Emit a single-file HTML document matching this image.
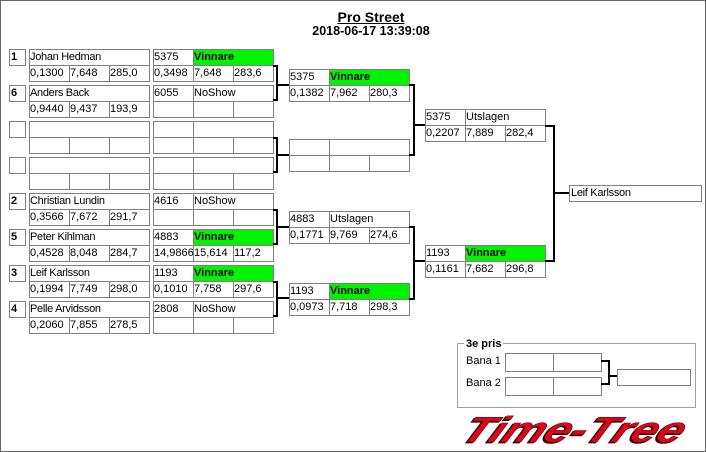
<!DOCTYPE html>
<html><head><meta charset="utf-8"><style>
html,body{margin:0;padding:0;background:#fff;}
#p{position:relative;width:706px;height:452px;overflow:hidden;background:#fff;font-family:"Liberation Sans",sans-serif;color:#000;}
.c{position:absolute;box-sizing:border-box;border:1px solid #808080;height:17px;font-size:11px;line-height:15px;white-space:nowrap;padding-left:0;}
.w{width:41px}.n{width:121px}.s{width:81px}
.g{background:#00f400;font-weight:bold;}
.sd{width:17px;font-weight:bold;padding-left:1px;}
.k{position:absolute;background:#000;}
.nm{letter-spacing:-0.3px;}
</style></head><body><div id="p">
<div style="position:absolute;left:0;top:0;width:706px;height:452px;box-sizing:border-box;border:1px solid #666;"></div>
<div style="position:absolute;left:271px;top:9px;width:200px;text-align:center;font-size:14px;font-weight:bold;line-height:16px;text-decoration:underline;">Pro Street</div>
<div style="position:absolute;left:221px;top:24px;width:300px;text-align:center;font-size:12.5px;font-weight:bold;line-height:14px;">2018-06-17 13:39:08</div>

<!-- Round 1 -->
<div class="c sd" style="left:9px;top:49px">1</div>
<div class="c n nm" style="left:29px;top:49px">Johan Hedman</div>
<div class="c w" style="left:29px;top:65px">0,1300</div><div class="c w" style="left:69px;top:65px">7,648</div><div class="c w" style="left:109px;top:65px">285,0</div>
<div class="c w" style="left:153px;top:49px">5375</div><div class="c s g" style="left:193px;top:49px">Vinnare</div>
<div class="c w" style="left:153px;top:65px">0,3498</div><div class="c w" style="left:193px;top:65px">7,648</div><div class="c w" style="left:233px;top:65px">283,6</div>

<div class="c sd" style="left:9px;top:85px">6</div>
<div class="c n nm" style="left:29px;top:85px">Anders Back</div>
<div class="c w" style="left:29px;top:101px">0,9440</div><div class="c w" style="left:69px;top:101px">9,437</div><div class="c w" style="left:109px;top:101px">193,9</div>
<div class="c w" style="left:153px;top:85px">6055</div><div class="c s" style="left:193px;top:85px">NoShow</div>
<div class="c w" style="left:153px;top:101px"></div><div class="c w" style="left:193px;top:101px"></div><div class="c w" style="left:233px;top:101px"></div>

<div class="c sd" style="left:9px;top:121px"></div>
<div class="c n" style="left:29px;top:121px"></div>
<div class="c w" style="left:29px;top:137px"></div><div class="c w" style="left:69px;top:137px"></div><div class="c w" style="left:109px;top:137px"></div>
<div class="c w" style="left:153px;top:121px"></div><div class="c s" style="left:193px;top:121px"></div>
<div class="c w" style="left:153px;top:137px"></div><div class="c w" style="left:193px;top:137px"></div><div class="c w" style="left:233px;top:137px"></div>

<div class="c sd" style="left:9px;top:157px"></div>
<div class="c n" style="left:29px;top:157px"></div>
<div class="c w" style="left:29px;top:173px"></div><div class="c w" style="left:69px;top:173px"></div><div class="c w" style="left:109px;top:173px"></div>
<div class="c w" style="left:153px;top:157px"></div><div class="c s" style="left:193px;top:157px"></div>
<div class="c w" style="left:153px;top:173px"></div><div class="c w" style="left:193px;top:173px"></div><div class="c w" style="left:233px;top:173px"></div>

<div class="c sd" style="left:9px;top:193px">2</div>
<div class="c n nm" style="left:29px;top:193px">Christian Lundin</div>
<div class="c w" style="left:29px;top:209px">0,3566</div><div class="c w" style="left:69px;top:209px">7,672</div><div class="c w" style="left:109px;top:209px">291,7</div>
<div class="c w" style="left:153px;top:193px">4616</div><div class="c s" style="left:193px;top:193px">NoShow</div>
<div class="c w" style="left:153px;top:209px"></div><div class="c w" style="left:193px;top:209px"></div><div class="c w" style="left:233px;top:209px"></div>

<div class="c sd" style="left:9px;top:229px">5</div>
<div class="c n nm" style="left:29px;top:229px">Peter Kihlman</div>
<div class="c w" style="left:29px;top:245px">0,4528</div><div class="c w" style="left:69px;top:245px">8,048</div><div class="c w" style="left:109px;top:245px">284,7</div>
<div class="c w" style="left:153px;top:229px">4883</div><div class="c s g" style="left:193px;top:229px">Vinnare</div>
<div class="c w" style="left:153px;top:245px">14,9866</div><div class="c w" style="left:193px;top:245px">15,614</div><div class="c w" style="left:233px;top:245px">117,2</div>

<div class="c sd" style="left:9px;top:265px">3</div>
<div class="c n nm" style="left:29px;top:265px">Leif Karlsson</div>
<div class="c w" style="left:29px;top:281px">0,1994</div><div class="c w" style="left:69px;top:281px">7,749</div><div class="c w" style="left:109px;top:281px">298,0</div>
<div class="c w" style="left:153px;top:265px">1193</div><div class="c s g" style="left:193px;top:265px">Vinnare</div>
<div class="c w" style="left:153px;top:281px">0,1010</div><div class="c w" style="left:193px;top:281px">7,758</div><div class="c w" style="left:233px;top:281px">297,6</div>

<div class="c sd" style="left:9px;top:301px">4</div>
<div class="c n nm" style="left:29px;top:301px">Pelle Arvidsson</div>
<div class="c w" style="left:29px;top:317px">0,2060</div><div class="c w" style="left:69px;top:317px">7,855</div><div class="c w" style="left:109px;top:317px">278,5</div>
<div class="c w" style="left:153px;top:301px">2808</div><div class="c s" style="left:193px;top:301px">NoShow</div>
<div class="c w" style="left:153px;top:317px"></div><div class="c w" style="left:193px;top:317px"></div><div class="c w" style="left:233px;top:317px"></div>

<!-- Round 2 -->
<div class="c w" style="left:289px;top:69px">5375</div><div class="c s g" style="left:329px;top:69px">Vinnare</div>
<div class="c w" style="left:289px;top:85px">0,1382</div><div class="c w" style="left:329px;top:85px">7,962</div><div class="c w" style="left:369px;top:85px">280,3</div>

<div class="c w" style="left:289px;top:139px"></div><div class="c s" style="left:329px;top:139px"></div>
<div class="c w" style="left:289px;top:155px"></div><div class="c w" style="left:329px;top:155px"></div><div class="c w" style="left:369px;top:155px"></div>

<div class="c w" style="left:289px;top:211px">4883</div><div class="c s" style="left:329px;top:211px">Utslagen</div>
<div class="c w" style="left:289px;top:227px">0,1771</div><div class="c w" style="left:329px;top:227px">9,769</div><div class="c w" style="left:369px;top:227px">274,6</div>

<div class="c w" style="left:289px;top:283px">1193</div><div class="c s g" style="left:329px;top:283px">Vinnare</div>
<div class="c w" style="left:289px;top:299px">0,0973</div><div class="c w" style="left:329px;top:299px">7,718</div><div class="c w" style="left:369px;top:299px">298,3</div>

<!-- Round 3 -->
<div class="c w" style="left:425px;top:109px">5375</div><div class="c s" style="left:465px;top:109px">Utslagen</div>
<div class="c w" style="left:425px;top:125px">0,2207</div><div class="c w" style="left:465px;top:125px">7,889</div><div class="c w" style="left:505px;top:125px">282,4</div>

<div class="c w" style="left:425px;top:245px">1193</div><div class="c s g" style="left:465px;top:245px">Vinnare</div>
<div class="c w" style="left:425px;top:261px">0,1161</div><div class="c w" style="left:465px;top:261px">7,682</div><div class="c w" style="left:505px;top:261px">296,8</div>

<!-- Final -->
<div class="c nm" style="left:569px;top:185px;width:133px;padding-left:1px">Leif Karlsson</div>

<!-- Connectors R1 -->
<div class="k" style="left:273px;top:65px;width:5px;height:2px"></div>
<div class="k" style="left:273px;top:99px;width:5px;height:2px"></div>
<div class="k" style="left:276px;top:65px;width:2px;height:36px"></div>
<div class="k" style="left:278px;top:84px;width:11px;height:2px"></div>

<div class="k" style="left:273px;top:137px;width:5px;height:2px"></div>
<div class="k" style="left:273px;top:171px;width:5px;height:2px"></div>
<div class="k" style="left:276px;top:137px;width:2px;height:36px"></div>
<div class="k" style="left:278px;top:154px;width:11px;height:2px"></div>

<div class="k" style="left:273px;top:209px;width:5px;height:2px"></div>
<div class="k" style="left:273px;top:243px;width:5px;height:2px"></div>
<div class="k" style="left:276px;top:209px;width:2px;height:36px"></div>
<div class="k" style="left:278px;top:226px;width:11px;height:2px"></div>

<div class="k" style="left:273px;top:281px;width:5px;height:2px"></div>
<div class="k" style="left:273px;top:315px;width:5px;height:2px"></div>
<div class="k" style="left:276px;top:281px;width:2px;height:36px"></div>
<div class="k" style="left:278px;top:297px;width:11px;height:2px"></div>

<!-- Connectors R2 -->
<div class="k" style="left:409px;top:84px;width:6px;height:2px"></div>
<div class="k" style="left:409px;top:154px;width:6px;height:2px"></div>
<div class="k" style="left:413px;top:84px;width:2px;height:72px"></div>
<div class="k" style="left:415px;top:124px;width:10px;height:2px"></div>

<div class="k" style="left:409px;top:226px;width:6px;height:2px"></div>
<div class="k" style="left:409px;top:298px;width:6px;height:2px"></div>
<div class="k" style="left:413px;top:226px;width:2px;height:74px"></div>
<div class="k" style="left:415px;top:260px;width:10px;height:2px"></div>

<!-- Connectors R3 -->
<div class="k" style="left:545px;top:125px;width:10px;height:2px"></div>
<div class="k" style="left:545px;top:260px;width:10px;height:2px"></div>
<div class="k" style="left:553px;top:125px;width:2px;height:137px"></div>
<div class="k" style="left:555px;top:192px;width:14px;height:2px"></div>

<!-- 3e pris -->
<div style="position:absolute;left:457px;top:343px;width:239px;height:65px;box-sizing:border-box;border:1px solid #a0a0a0;"></div>
<div style="position:absolute;left:464px;top:337px;padding:0 2px;background:#fff;font-size:11px;font-weight:bold;line-height:15px;">3e pris</div>
<div style="position:absolute;left:466px;top:354px;font-size:11px;line-height:15px;">Bana 1</div>
<div style="position:absolute;left:466px;top:376px;font-size:11px;line-height:15px;">Bana 2</div>
<div class="c" style="left:505px;top:353px;width:49px;height:19px"></div>
<div class="c" style="left:553px;top:353px;width:49px;height:19px"></div>
<div class="c" style="left:505px;top:377px;width:49px;height:19px"></div>
<div class="c" style="left:553px;top:377px;width:49px;height:19px"></div>
<div class="c" style="left:617px;top:369px;width:74px;height:17px"></div>
<div class="k" style="left:601px;top:360px;width:9px;height:2px"></div>
<div class="k" style="left:601px;top:383px;width:9px;height:2px"></div>
<div class="k" style="left:608px;top:360px;width:2px;height:25px"></div>
<div class="k" style="left:610px;top:375px;width:7px;height:2px"></div>

<!-- Logo -->
<svg style="position:absolute;left:0;top:0" width="706" height="452" xmlns="http://www.w3.org/2000/svg">
<g transform="translate(459,442) skewX(-27)">
<text x="-1.2" y="1" textLength="220" lengthAdjust="spacingAndGlyphs" font-family="Liberation Sans, sans-serif" font-weight="bold" font-style="italic" font-size="36" fill="#3a0000" stroke="#3a0000" stroke-width="0.8">Time-Tree</text>
<text x="0" y="0" textLength="220" lengthAdjust="spacingAndGlyphs" font-family="Liberation Sans, sans-serif" font-weight="bold" font-style="italic" font-size="36" fill="#d8081c" stroke="#5a0000" stroke-width="0.5">Time-Tree</text>
</g>
</svg>
</div></body></html>
